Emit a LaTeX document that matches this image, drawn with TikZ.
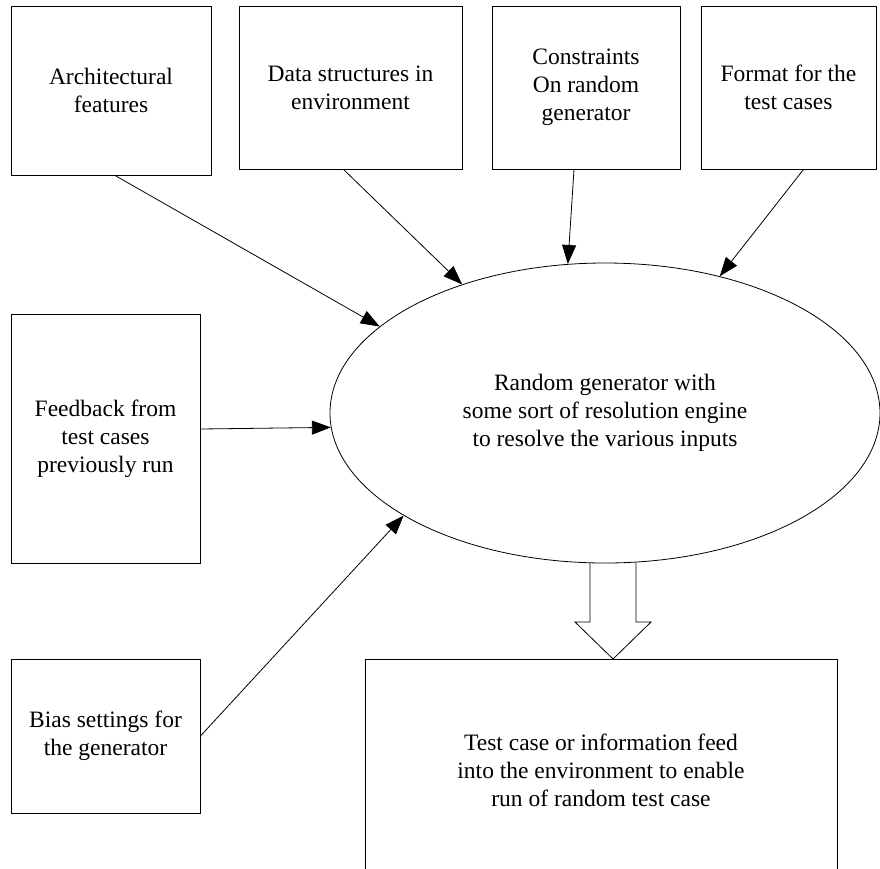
\documentclass[tikz,border=0pt]{standalone}
\usepackage{fontspec}
\setmainfont{Liberation Serif}
\usetikzlibrary{arrows.meta,shapes.geometric,calc}
\begin{document}
\begin{tikzpicture}[x=1pt,y=-1pt,
  every node/.style={font=\fontsize{23.5}{28}\selectfont, align=center, inner sep=0pt},
  box/.style={draw=black, line width=0.9pt, rectangle},
  arr/.style={draw=black, line width=0.8pt, -{Triangle[length=19pt,width=14pt]}},
  hollow/.style={draw=black, line width=0.8pt, line join=miter}]
\useasboundingbox (0,0) rectangle (880,868);
\clip (0,0) rectangle (880,868);
% boxes
\node[box, minimum width=200pt, minimum height=169pt] (arch) at (111,90.5) {Architectural\\features};
\node[box, minimum width=223pt, minimum height=163pt] (data) at (350.5,87.5) {Data structures in\\environment};
\node[box, minimum width=188pt, minimum height=163pt] (cons) at (586,87.5) {Constraints\\On random\\generator};
\node[box, minimum width=175pt, minimum height=163pt] (fmt) at (788.5,87.5) {Format for the\\test cases};
\node[box, minimum width=189pt, minimum height=249pt] (fb) at (105.5,438.5) {Feedback from\\test cases\\previously run};
\node[box, minimum width=189pt, minimum height=154pt] (bias) at (105.5,736) {Bias settings for\\the generator};
\node[box, minimum width=472pt, minimum height=222pt] (test) at (601,770) {Test case or information feed\\into the environment to enable\\run of random test case};
% ellipse
\node[draw=black, line width=0.8pt, ellipse, minimum width=550pt, minimum height=300pt] (gen) at (605,413) {Random generator with\\some sort of resolution engine\\to resolve the various inputs};
% connectors
\draw[arr] ([xshift=4pt]arch.south) -- (gen.159);
\draw[arr] ([xshift=-7pt]data.south) -- (gen.138);
\draw[arr] ([xshift=-12pt]cons.south) -- (gen.104);
\draw[arr] ([xshift=15pt]fmt.south) -- (gen.50.5);
\draw[arr] ([yshift=9.5pt]fb.east) -- (gen.183);
\draw[arr] (bias.east) -- (gen.207);
% hollow block arrow
\coordinate (tip) at (613,659);
\draw[hollow] (590,562.5) -- (590,622) -- (575,622) -- (tip) -- (651,622) -- (636,622) -- (636,562.5);
\end{tikzpicture}
\end{document}
